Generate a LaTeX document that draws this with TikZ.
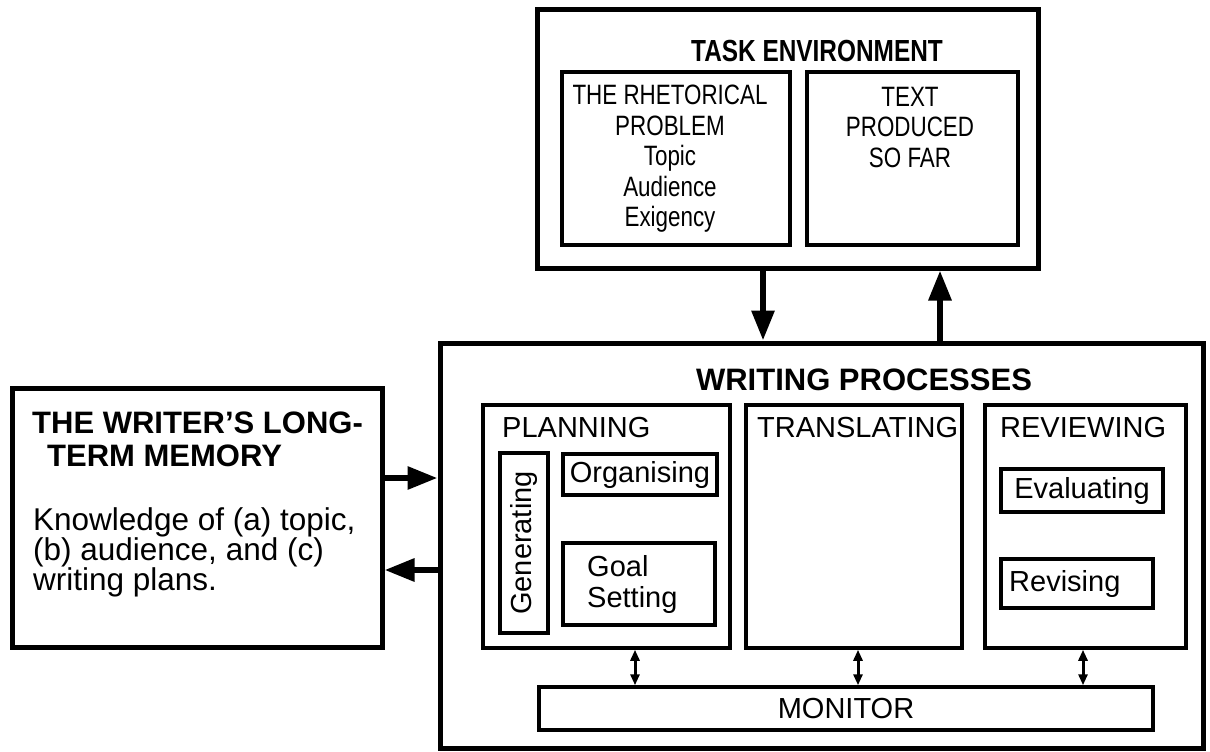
\documentclass[tikz,border=0pt]{standalone}
\usepackage{fontspec}
\setmainfont{Liberation Sans}
\newfontfamily\narrowfont{Liberation Sans}[FakeStretch=0.8]
\usetikzlibrary{arrows.meta}

\newcommand{\labelsize}{\fontsize{29}{31}\selectfont}
\newcommand{\headsize}{\fontsize{31}{33}\selectfont\bfseries}
\newcommand{\tasksize}{\narrowfont\fontsize{28}{30.5}\selectfont}

\begin{document}
\begin{tikzpicture}[x=1pt,y=-1pt,
    box/.style={draw,line width=5pt,inner sep=0pt},
    sub/.style={draw,line width=3.5pt,inner sep=0pt,font=\labelsize},
    txt/.style={inner sep=0pt},
    big/.style={line width=6pt,-{Triangle[length=30pt,width=22pt]}},
    duo/.style={line width=3pt,{Triangle[length=11pt,width=9pt]}-{Triangle[length=11pt,width=9pt]}}]
  \useasboundingbox (0,0) rectangle (1210,752);

  % Task environment
  \node[box,minimum width=501pt,minimum height=258pt] (task) at (787.5,139) {};
  \node[txt,anchor=base,font=\narrowfont\fontsize{30.5}{32}\selectfont\bfseries] (tasktitle) at (817,62) {TASK ENVIRONMENT};
  \node[sub,minimum width=228pt,minimum height=173pt] (rhet) at (676,158.5) {};
  \node[sub,minimum width=211pt,minimum height=173pt] (sofar) at (912.5,158.5) {};
  \node[txt,anchor=north,align=center,font=\tasksize] (rhettext) at (670,85)
    {THE RHETORICAL\\PROBLEM\\Topic\\Audience\\Exigency};
  \node[txt,anchor=north,align=center,font=\tasksize] (sofartext) at (910,87)
    {TEXT\\PRODUCED\\SO FAR};

  % Writing processes
  \node[box,minimum width=763pt,minimum height=405pt] (wp) at (821.5,545.5) {};
  \node[txt,anchor=base,font=\headsize] (wptitle) at (864,390) {WRITING PROCESSES};
  \node[sub,minimum width=247pt,minimum height=243pt] (plan) at (606.5,526.5) {};
  \node[sub,minimum width=216pt,minimum height=243pt] (trans) at (854,526.5) {};
  \node[sub,minimum width=201pt,minimum height=243pt] (review) at (1085.5,526.5) {};
  \node[txt,anchor=base west,font=\labelsize] (plantext) at (502,437) {PLANNING};
  \node[txt,anchor=base west,font=\labelsize] (transtext) at (757,437) {TRANSLATING};
  \node[txt,anchor=base west,font=\labelsize] (reviewtext) at (1000,437) {REVIEWING};
  \node[sub,rotate=90,minimum width=180pt,minimum height=48pt] (gen) at (524,543) {Generating};
  \node[sub,minimum width=154pt,minimum height=41pt] (org) at (640,474.5) {Organising};
  \node[sub,minimum width=152pt,minimum height=82pt] (goal) at (639,584) {};
  \node[txt,anchor=north west,align=left,font=\labelsize] (goaltext) at (587,555) {Goal\\Setting};
  \node[sub,minimum width=162pt,minimum height=43pt] (eval) at (1082,490.5) {Evaluating};
  \node[sub,minimum width=152pt,minimum height=49pt] (revise) at (1077,583.5) {};
  \node[txt,anchor=west,font=\labelsize] (revisetext) at (1009,583.5) {Revising};
  \node[sub,minimum width=614pt,minimum height=43pt] (monitor) at (846,708.5) {MONITOR};

  % Long-term memory
  \node[box,minimum width=370pt,minimum height=259pt] (memory) at (197,517.5) {};
  \node[txt,anchor=north west,align=left,font=\headsize] (memtitle) at (32,412)
    {THE WRITER'S LONG-\\\hspace*{15pt}TERM MEMORY};
  \node[txt,anchor=north west,align=left,font=\fontsize{31.5}{29}\selectfont] (memtext) at (33,507)
    {Knowledge of (a) topic,\\(b) audience, and (c)\\writing plans.};

  % Connectors
  \coordinate (dn) at (763,300);
  \coordinate (up) at (940,300);
  \coordinate (r1) at (410,478);
  \coordinate (r2) at (410,570);
  \coordinate (m1) at (635,668);
  \coordinate (m2) at (858,668);
  \coordinate (m3) at (1083,668);
  \draw[big] (task.south -| dn) -- (wp.north -| dn);
  \draw[big] (wp.north -| up) -- (task.south -| up);
  \draw[big] (memory.east |- r1) -- (wp.west |- r1);
  \draw[big] (wp.west |- r2) -- (memory.east |- r2);
  \draw[duo] (plan.south -| m1) -- (monitor.north -| m1);
  \draw[duo] (trans.south -| m2) -- (monitor.north -| m2);
  \draw[duo] (review.south -| m3) -- (monitor.north -| m3);
\end{tikzpicture}
\end{document}
